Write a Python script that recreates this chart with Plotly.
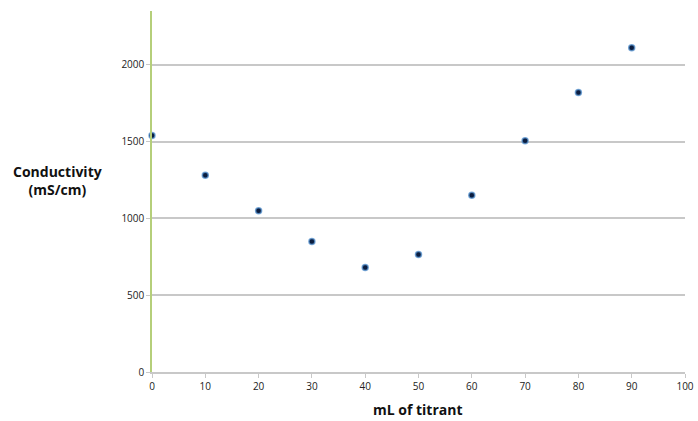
import plotly.graph_objects as go

ml_titrant = [0, 10, 20, 30, 40, 50, 60, 70, 80, 90]
conductivity = [1540, 1280, 1050, 850, 680, 765, 1150, 1505, 1820, 2110]
x_ticks = [0, 10, 20, 30, 40, 50, 60, 70, 80, 90, 100]
y_ticks = [0, 500, 1000, 1500, 2000]

L, R, T, B = 152, 13, 11, 49
W, H = 698, 421
pw = W - L - R
ph = H - T - B

fig = go.Figure()
fig.add_trace(go.Scatter(
    x=ml_titrant, y=conductivity, mode="markers",
    marker=dict(symbol="circle", size=6, color="#0b1d3f",
                line=dict(color="rgba(90,150,210,0.75)", width=1.5)),
    cliponaxis=False, showlegend=False, hoverinfo="skip",
))

fig.update_layout(
    width=W, height=H,
    margin=dict(l=L, r=R, t=T, b=B, autoexpand=False),
    plot_bgcolor="white", paper_bgcolor="white",
    font=dict(family="Open Sans, Liberation Sans, sans-serif", size=10, color="#222"),
    xaxis=dict(range=[0, 100], tickvals=x_ticks, showgrid=False, zeroline=False,
               automargin=False,
               showline=True, linecolor="#c8c8c8", linewidth=1.5,
               ticks="outside", ticklen=4, tickcolor="#c8c8c8",
               tickfont=dict(size=10, color="#222")),
    yaxis=dict(range=[0, 2350], tickvals=y_ticks, showgrid=True, gridcolor="#c8c8c8",
               automargin=False,
               gridwidth=1.5, zeroline=False, showline=True, linecolor="#b5cf7a",
               linewidth=1.5, ticks="outside", ticklen=4, tickcolor="#c8c8c8",
               tickfont=dict(size=10, color="#222")),
    annotations=[
        dict(text="<b>Conductivity<br>(mS/cm)</b>", xref="paper", yref="paper",
             x=(57 - L) / pw, y=(H - B - 181) / ph, xanchor="center", yanchor="middle",
             showarrow=False, font=dict(size=14, color="#111"), align="center"),
        dict(text="<b>mL of titrant</b>", xref="paper", yref="paper",
             x=(418 - L) / pw, y=(H - B - 410) / ph, xanchor="center", yanchor="middle",
             showarrow=False, font=dict(size=14, color="#111")),
    ],
)

fig.write_html("out.html", config={"displayModeBar": False},
               post_script="document.body.style.margin='0';document.body.style.padding='0';document.body.style.overflow='hidden';")
